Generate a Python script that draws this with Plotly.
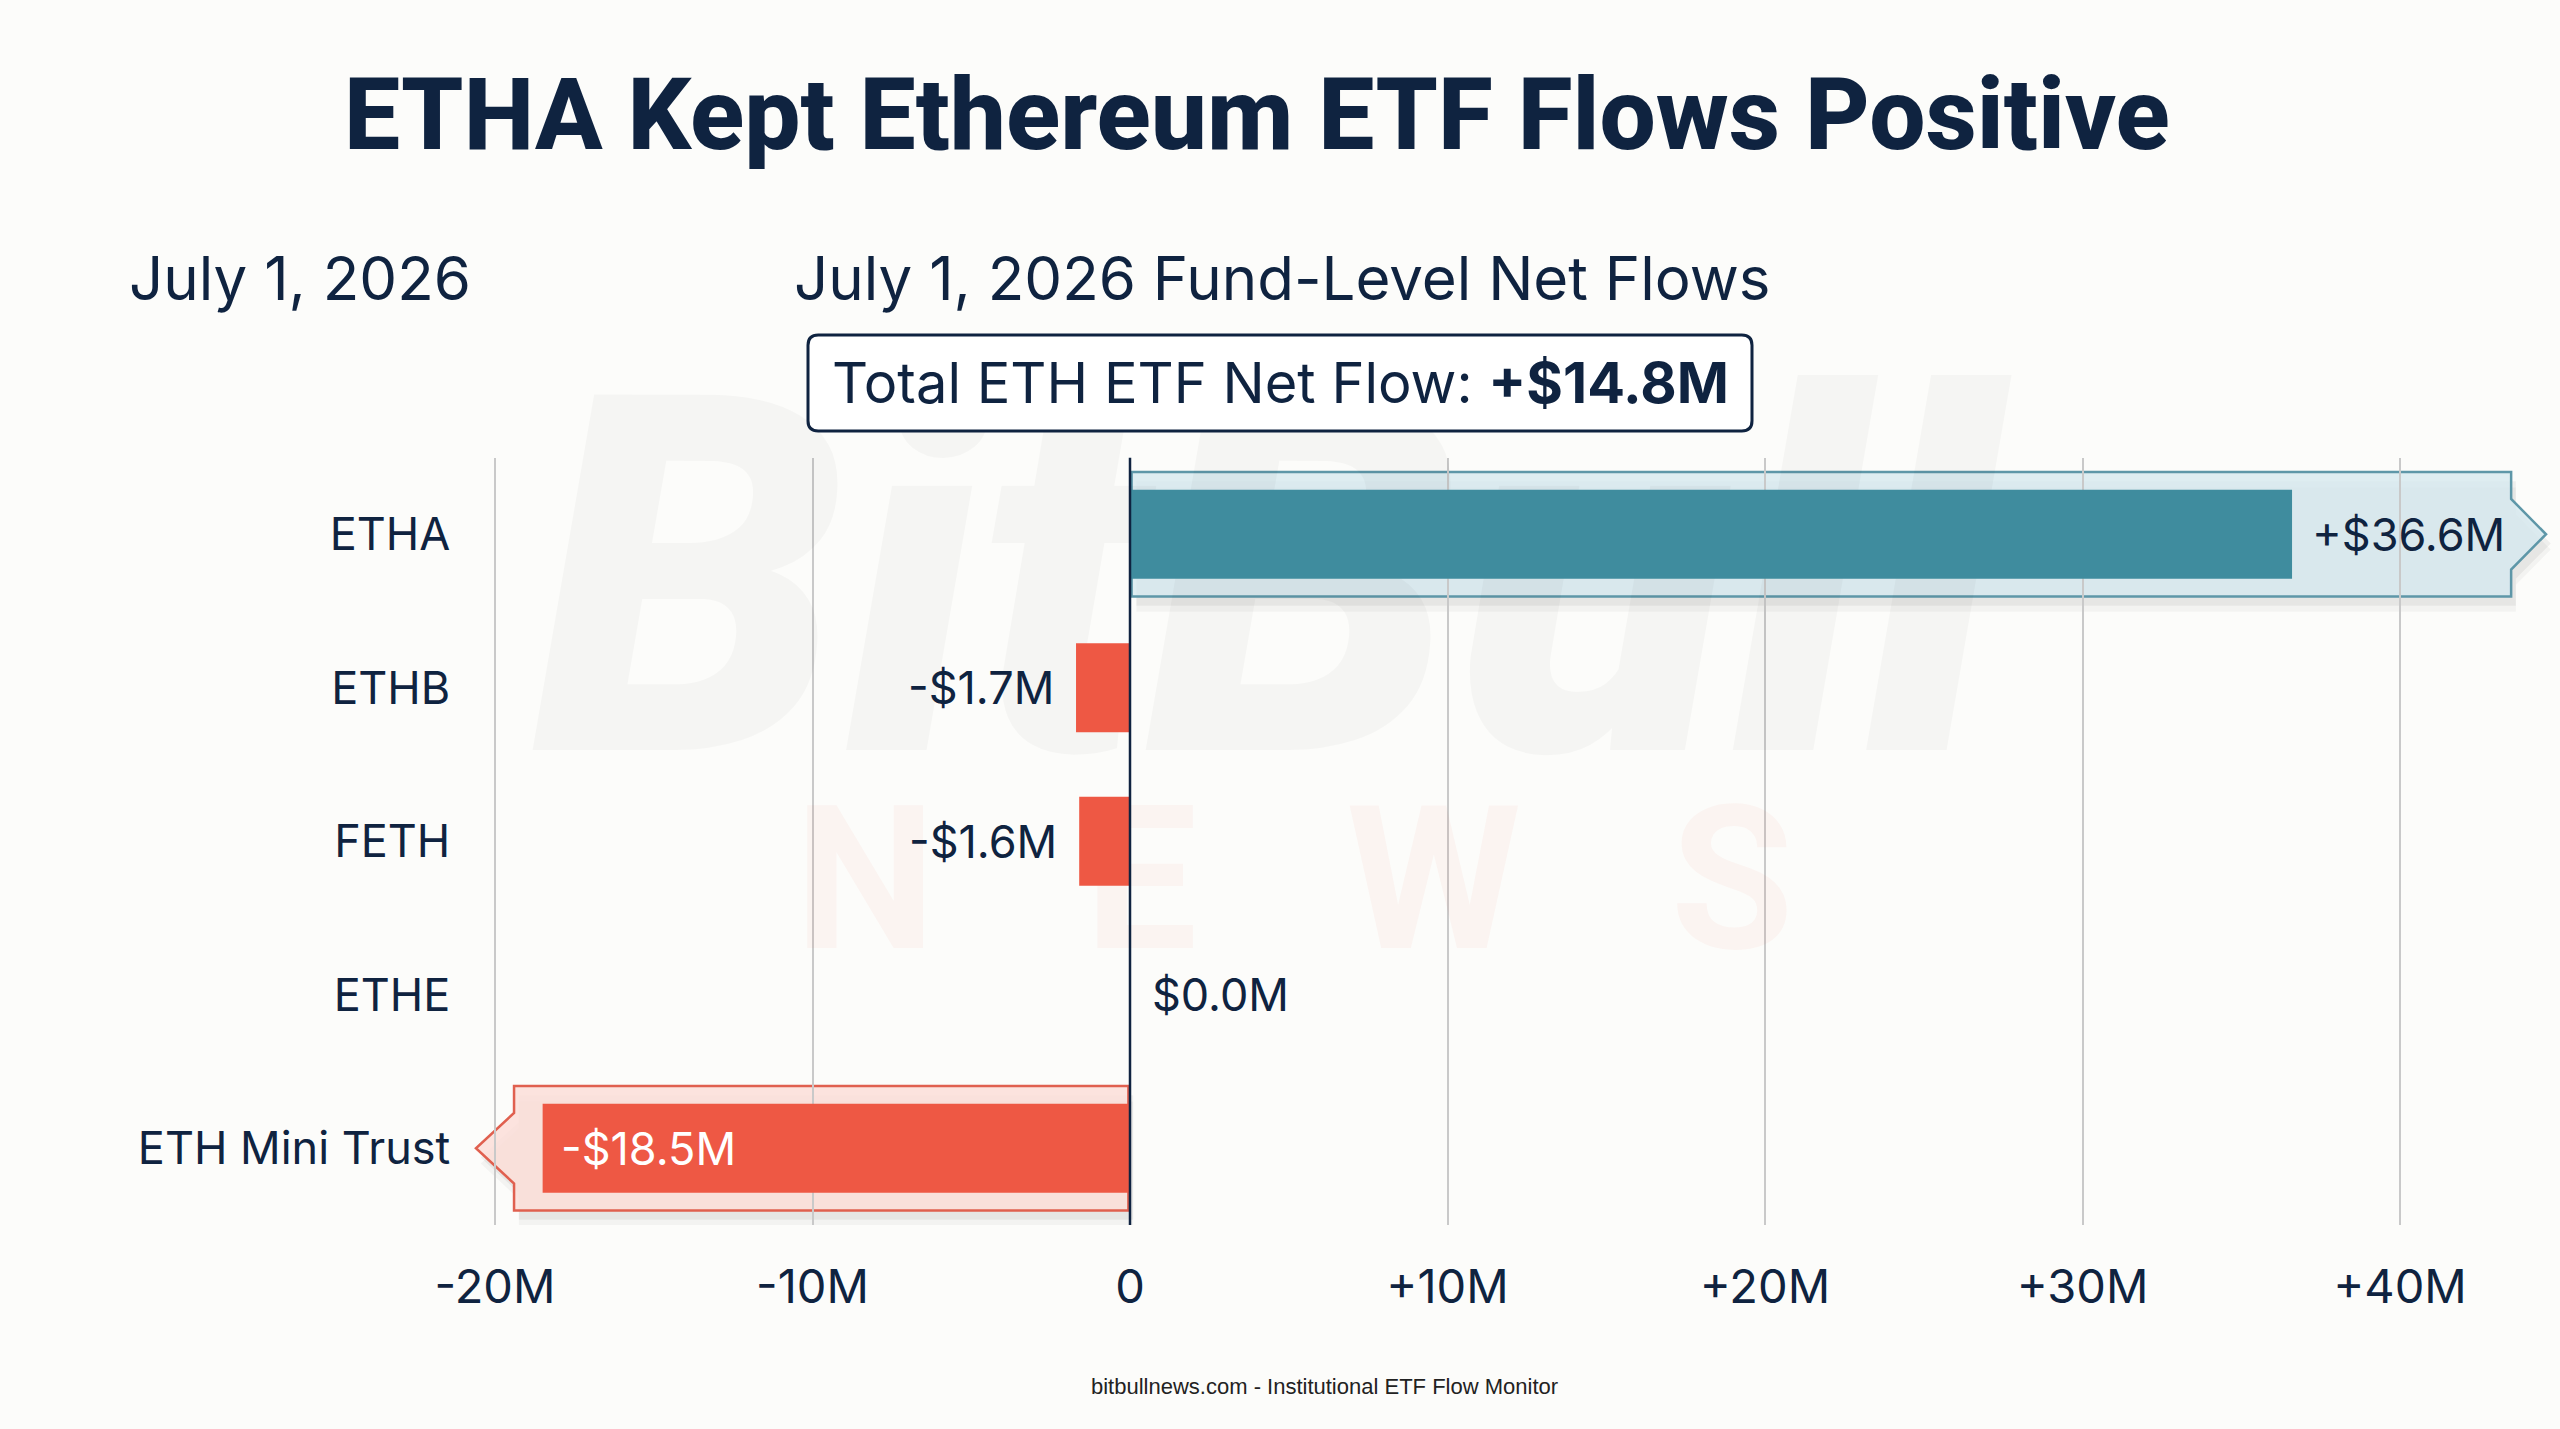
import plotly.graph_objects as go

# ---------------- data ----------------
funds = ["ETHA", "ETHB", "FETH", "ETHE", "ETH Mini Trust"]
net_flows_musd = [36.6, -1.7, -1.6, 0.0, -18.5]
x_tick_vals = [-20, -10, 0, 10, 20, 30, 40]
x_tick_text = ["-20M", "-10M", "0", "+10M", "+20M", "+30M", "+40M"]

title_text = "ETHA Kept Ethereum ETF Flows Positive"
date_text = "July 1, 2026"
subtitle_text = "July 1, 2026 Fund-Level Net Flows"
footer_text = "bitbullnews.com - Institutional ETF Flow Monitor"

# ---------------- style ----------------
NAVY = "#0F2340"
TEAL = "#3F8C9E"
RED = "#EE5844"
BG = "#FCFCFA"
FONT = "Inter"
TFONT = "Roboto"
W, H = 2560, 1429
PX0, PX1 = 463.25, 2558.75     # plot area, pixels
PY0, PY1 = 457.5, 1225.0


def fmt(v):
    sign = "+" if v > 0 else ("-" if v < 0 else "")
    return f"{sign}${abs(v):.1f}M"


total = sum(net_flows_musd)
ypos = list(range(len(funds)))
colors = [TEAL if v > 0 else RED for v in net_flows_musd]

fig = go.Figure()

# watermark on base subplot (drawn beneath the bars' overlay subplot)
fig.add_trace(go.Scatter(
    x=[(1265 - PX0) / (PX1 - PX0)], y=[(PY1 - 625) / (PY1 - PY0)], mode="text",
    text=["BitBull"], cliponaxis=False, hoverinfo="skip", showlegend=False,
    textfont=dict(family=TFONT, size=500, color="rgba(0,0,0,0.026)", weight=900, style="italic"),
    xaxis="x", yaxis="y"))
fig.add_trace(go.Scatter(
    x=[(1294 - PX0) / (PX1 - PX0)], y=[(PY1 - 898) / (PY1 - PY0)], mode="text",
    text=["N   E   W   S"], cliponaxis=False, hoverinfo="skip", showlegend=False,
    textfont=dict(family=TFONT, size=200, color="rgba(239,90,69,0.05)", weight=700),
    xaxis="x", yaxis="y"))

fig.add_trace(go.Bar(
    x=net_flows_musd, y=ypos, orientation="h", width=0.58,
    marker=dict(color=colors, line=dict(width=0)),
    hoverinfo="skip", showlegend=False, xaxis="x2", yaxis="y2",
))

shapes = []
annotations = []


def callout_path(x0, xr, xtip, yc, half=0.405, ah=0.23):
    top, bot = yc - half, yc + half
    return (f"M {x0},{top} L {xr},{top} L {xr},{yc - ah} L {xtip},{yc} "
            f"L {xr},{yc + ah} L {xr},{bot} L {x0},{bot} Z")


LBL = dict(family=FONT, size=45, color=NAVY)
for i, v in enumerate(net_flows_musd):
    label = fmt(v)
    if abs(v) >= 10:
        if v > 0:
            x0, xr, xtip = 0.05, v + 6.9, v + 8.0
            fill, edge = "rgba(214,233,239,0.80)", "#5E97A8"
        else:
            x0, xr, xtip = -0.05, v - 0.9, v - 2.1
            fill, edge = "rgba(252,222,216,0.85)", "#E0604F"
        for k, a in [(0.10, 0.035), (0.06, 0.05)]:
            shapes.append(dict(type="path", xref="x2", yref="y2", layer="below",
                               path=callout_path(x0 + 0.15, xr + 0.15, xtip + 0.15, i + k),
                               fillcolor=f"rgba(0,0,0,{a})", line=dict(width=0)))
        shapes.append(dict(type="path", xref="x2", yref="y2", layer="below",
                           path=callout_path(x0, xr, xtip, i),
                           fillcolor=fill, line=dict(color=edge, width=2.5)))
    common = dict(x=v, y=i, xref="x2", yref="y2", text=label, showarrow=False)
    if v >= 0:
        annotations.append(dict(**common, xanchor="left", xshift=18 if v > 0 else 20, font=LBL))
    elif abs(v) >= 10:
        annotations.append(dict(**common, xanchor="left", xshift=16,
                                font=dict(family=FONT, size=45, color="white")))
    else:
        annotations.append(dict(**common, xanchor="right", xshift=-20, font=LBL))

# zero line on top
shapes.append(dict(type="line", xref="x2", yref="y2", x0=0, x1=0, y0=-0.5, y1=4.5,
                   layer="above", line=dict(color=NAVY, width=2.5)))

# total box (rounded rect in paper coords)
bx0, bx1, by0, by1, r = 808 / W, 1752 / W, 1 - 431 / H, 1 - 335 / H, 0.004
ry = r * W / H
shapes.append(dict(
    type="path", xref="paper", yref="paper", layer="above",
    path=(f"M {bx0 + r},{by0} L {bx1 - r},{by0} Q {bx1},{by0} {bx1},{by0 + ry} "
          f"L {bx1},{by1 - ry} Q {bx1},{by1} {bx1 - r},{by1} L {bx0 + r},{by1} "
          f"Q {bx0},{by1} {bx0},{by1 - ry} L {bx0},{by0 + ry} Q {bx0},{by0} {bx0 + r},{by0} Z"),
    fillcolor="white", line=dict(color=NAVY, width=3)))

annotations += [
    dict(x=1257 / W, y=1 - 114 / H, xref="paper", yref="paper", text=title_text, showarrow=False,
         xanchor="center", yanchor="middle",
         font=dict(family=TFONT, size=100, color=NAVY, weight=800)),
    dict(x=127 / W, y=1 - 278 / H, xref="paper", yref="paper", text=date_text, showarrow=False,
         xanchor="left", yanchor="middle", font=dict(family=FONT, size=60, color=NAVY)),
    dict(x=1282 / W, y=1 - 278 / H, xref="paper", yref="paper", text=subtitle_text, showarrow=False,
         xanchor="center", yanchor="middle", font=dict(family=FONT, size=60, color=NAVY)),
    dict(x=1280 / W, y=1 - 383 / H, xref="paper", yref="paper",
         text=f"Total ETH ETF Net Flow: <b>{fmt(total)}</b>", showarrow=False,
         xanchor="center", yanchor="middle", font=dict(family=FONT, size=56, color=NAVY)),
    dict(x=1324 / W, y=1 - 1386 / H, xref="paper", yref="paper", text=footer_text,
         showarrow=False, xanchor="center", yanchor="middle",
         font=dict(family="Liberation Sans", size=22, color="#222222")),
]

dom_x = [PX0 / W, PX1 / W]
dom_y = [(H - PY1) / H, (H - PY0) / H]

fig.update_layout(
    width=W, height=H, autosize=False,
    margin=dict(l=0, r=0, t=0, b=0, autoexpand=False),
    paper_bgcolor=BG, plot_bgcolor="rgba(0,0,0,0)",
    shapes=shapes, annotations=annotations,
    xaxis=dict(domain=dom_x, range=[0, 1], visible=False, fixedrange=True, automargin=False),
    yaxis=dict(domain=dom_y, range=[0, 1], visible=False, fixedrange=True, automargin=False),
    xaxis2=dict(
        overlaying="x", range=[-21, 45], automargin=False,
        tickvals=x_tick_vals, ticktext=x_tick_text,
        tickfont=dict(family=FONT, size=47, color=NAVY),
        showgrid=True, gridcolor="#C9C9C9", gridwidth=1.5,
        zeroline=False, showline=False, ticks="", ticklabelstandoff=30,
        fixedrange=True, anchor="y2",
    ),
    yaxis2=dict(
        overlaying="y", range=[4.5, -0.5], automargin=False,
        tickvals=ypos, ticktext=funds,
        tickfont=dict(family=FONT, size=45, color=NAVY),
        showgrid=False, zeroline=False, showline=False, ticks="", ticklabelstandoff=12,
        fixedrange=True, anchor="x2",
    ),
)

fig.write_html("out.html")
